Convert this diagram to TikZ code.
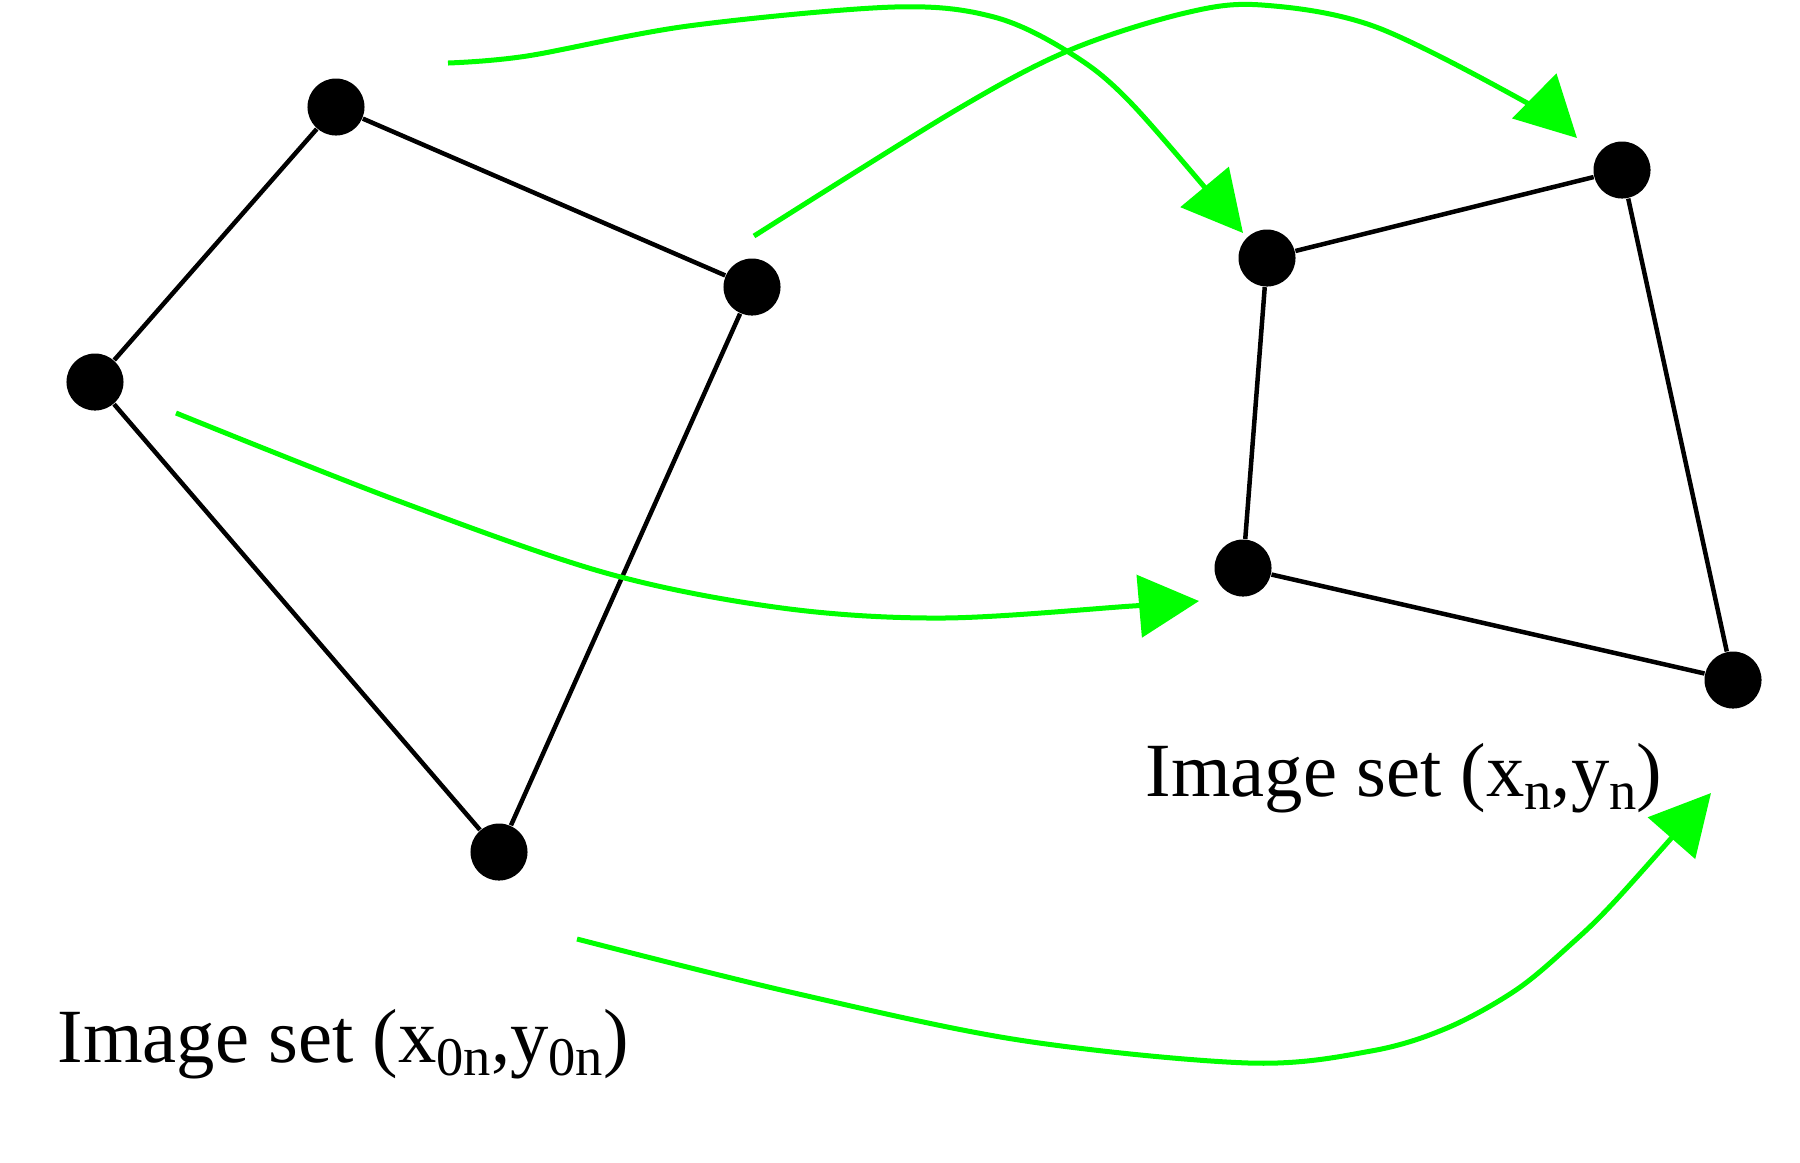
\documentclass[tikz,border=0pt]{standalone}
\usepackage{fontspec}
\setmainfont{Liberation Serif}
\usetikzlibrary{arrows.meta}
\definecolor{mapgreen}{RGB}{0,255,0}
\newcommand{\sub}[1]{\raisebox{-0.13cm}{\fontsize{15.5pt}{15.5pt}\selectfont #1}}
\begin{document}
\begin{tikzpicture}[x=0.01cm,y=-0.01cm,
  pt/.style={circle,fill=black,inner sep=0pt,minimum size=0.57cm},
  edge/.style={line width=0.045cm,black},
  mapto/.style={line width=0.05cm,mapgreen,-{Triangle[length=0.6cm,width=0.62cm]}},
  label/.style={font=\fontsize{21.8pt}{26pt}\selectfont,inner sep=0pt,anchor=base west}]
\useasboundingbox (0,0) rectangle (1800,1162);

% original point set
\node[pt] (A) at (336,107) {};
\node[pt] (B) at (752,287) {};
\node[pt] (C) at (95,382) {};
\node[pt] (D) at (499,852) {};
\draw[edge] (C) -- (A) -- (B) -- (D) -- (C);

% transformed point set
\node[pt] (E) at (1267,258) {};
\node[pt] (F) at (1622,170) {};
\node[pt] (G) at (1243,568) {};
\node[pt] (H) at (1733,680) {};
\draw[edge] (E) -- (F) -- (H) -- (G) -- (E);

% correspondence arrows
\coordinate (s1) at (448,63);   \coordinate (t1) at (1243,233);
\coordinate (s2) at (754,236);  \coordinate (t2) at (1577,138);
\coordinate (s3) at (176,413);  \coordinate (t3) at (1199,601);
\coordinate (s4) at (577,939);  \coordinate (t4) at (1711,793);

\draw[mapto] plot[smooth,tension=0.55] coordinates
  {(s1) (527,56) (688,26) (894,7) (994,17) (1070,53) (1132,104) (t1)};
\draw[mapto] plot[smooth,tension=0.55] coordinates
  {(s2) (956,110) (1070,50) (1185,13) (1262,5) (1376,27) (1529,104) (t2)};
\draw[mapto] plot[smooth,tension=0.55] coordinates
  {(s3) (396,500) (606,573) (782,608) (943,618) (1132,606) (t3)};
\draw[mapto] plot[smooth,tension=0.55] coordinates
  {(s4) (790,992) (1019,1040) (1249,1063) (1371,1051) (1447,1028) (1516,990) (1570,945) (1616,900) (t4)};

% captions
\node[label] (cap0) at (57,1062) {Image set (x\sub{0n},y\sub{0n})};
\node[label] (cap1) at (1145,796) {Image set (x\sub{n},y\sub{n})};
\end{tikzpicture}
\end{document}
